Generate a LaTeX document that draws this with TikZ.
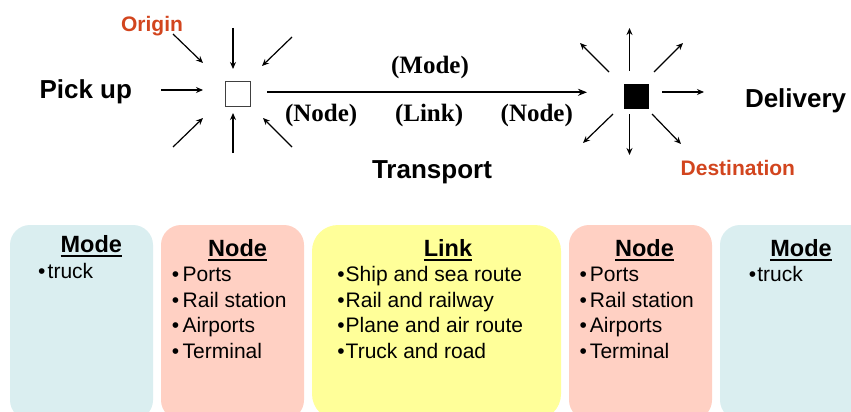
\documentclass[tikz,border=0pt]{standalone}
\usepackage{fontspec}
\setmainfont{Liberation Sans}
\newfontfamily\tnr{Liberation Serif}
\usetikzlibrary{arrows.meta}
\definecolor{origc}{HTML}{D2451E}
\definecolor{bluebox}{HTML}{DAEEF0}
\definecolor{salmonbox}{HTML}{FFD0C3}
\definecolor{yellowbox}{HTML}{FFFF99}
\newcommand\hdul[1]{\vtop{\hbox{#1}\kern2pt\hrule height 2pt}}
\tikzset{
  arr/.style={-{Stealth[length=7pt,width=6pt]}, line width=1.2pt},
  mainarr/.style={-{Stealth[length=9pt,width=7pt]}, line width=1.8pt},
  txt/.style={inner sep=0pt, outer sep=0pt},
  bigsans/.style={txt, font=\fontsize{26}{30}\selectfont\bfseries},
  redsans/.style={txt, font=\fontsize{21}{25}\selectfont\bfseries, text=origc},
  serifb/.style={txt, font=\fontsize{25}{30}\selectfont\tnr\bfseries},
  boxfill/.style={draw=none, rounded corners=20pt},
  hdr/.style={txt, anchor=base, font=\fontsize{23.5}{28}\selectfont\bfseries},
  item/.style={txt, anchor=base west, font=\fontsize{21}{25}\selectfont},
}
\begin{document}
\begin{tikzpicture}[x=1pt,y=-1pt]
\useasboundingbox (0,0) rectangle (851,412);
\clip (0,0) rectangle (851,412);
\fill[white] (0,0) rectangle (851,412);

% bottom boxes
\path[boxfill, fill=bluebox]   (10,225) rectangle (153,420);
\path[boxfill, fill=salmonbox] (161,225) rectangle (304,420);
\path[boxfill, fill=yellowbox, rounded corners=26pt] (312,225) rectangle (561,420);
\path[boxfill, fill=salmonbox] (569,225) rectangle (712,420);
\path[boxfill, fill=bluebox]   (720,225) rectangle (880,420);

% headers
\node[hdr] (h1) at (91.3,252.7) {\hdul{Mode}};
\node[hdr] (h2) at (237.6,256.7) {\hdul{Node}};
\node[hdr] (h3) at (448,256.7) {\hdul{Link}};
\node[hdr] (h4) at (644.5,256.7) {\hdul{Node}};
\node[hdr] (h5) at (801,256.7) {\hdul{Mode}};

% items
\node[item] (m1) at (47.7,278) {\llap{•\hspace{2.3pt}}truck};
\node[item] (m2) at (757.3,281) {\llap{•\hspace{1pt}}truck};
\foreach \t [count=\i] in {Ports,Rail station,Airports,Terminal}{
  \node[item] (nl\i) at (182.7,{281.7+25.5*(\i-1)}) {\llap{•\hspace{3.6pt}}\t};
  \node[item] (nr\i) at (590,{281.7+25.5*(\i-1)}) {\llap{•\hspace{3pt}}\t};
}
\foreach \t [count=\i] in {Ship and sea route,Rail and railway,Plane and air route,Truck and road}{
  \node[item] (lk\i) at (345.7,{281.7+25.5*(\i-1)}) {\llap{•\hspace{1pt}}\t};
}

% top labels
\node[redsans, anchor=base] (origin) at (152,31.5) {Origin};
\node[bigsans, anchor=base west] (pickup) at (39.5,98.3) {Pick up};
\node[bigsans, anchor=base west] (delivery) at (745,107) {Delivery};
\node[bigsans, anchor=base west] (transport) at (372,178.3) {Transport};
\node[redsans, anchor=base west] (dest) at (680.7,175) {Destination};
\node[serifb, anchor=base] (model) at (430,73.3) {(Mode)};
\node[serifb, anchor=base west] (node1) at (285,121.7) {(Node)};
\node[serifb, anchor=base west] (linkl) at (395,121.7) {(Link)};
\node[serifb, anchor=base west] (node2) at (500.7,121.7) {(Node)};

% squares
\node[draw=black!75, line width=1pt, fill=white, minimum size=25pt, inner sep=0pt] (osq) at (237.5,93.5) {};
\node[fill=black, minimum size=25pt, inner sep=0pt] (dsq) at (636.5,96.3) {};

% main arrow
\coordinate (ms) at (267,92.3);
\coordinate (me) at (587,92.3);
\draw[mainarr] (ms) -- (me);

% arrows into origin
\foreach \i/\sx/\sy/\ex/\ey in {1/173/34/203/63, 2/233/28/233/69, 3/292/37/262/66, 4/161/90/203/90, 5/173/147/203/118, 6/233/153/233/113, 7/292/147/263/118}{
  \coordinate (os\i) at (\sx,\sy);
  \coordinate (oe\i) at (\ex,\ey);
  \draw[arr] (os\i) -- (oe\i);
}
% arrows out of destination
\foreach \i/\sx/\sy/\ex/\ey in {1/609/72/580/43, 2/629.5/71/629.5/28, 3/654/72/683/43, 4/662/92/704/92, 5/613/114/583/143, 6/629.5/114/629.5/155, 7/652/114/681/144}{
  \coordinate (ds\i) at (\sx,\sy);
  \coordinate (de\i) at (\ex,\ey);
  \draw[arr] (ds\i) -- (de\i);
}
\end{tikzpicture}
\end{document}
